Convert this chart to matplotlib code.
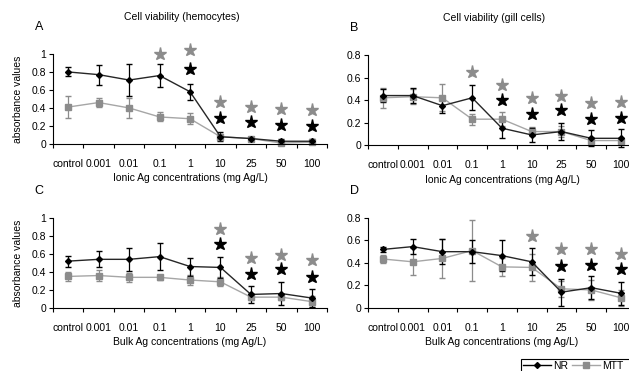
import matplotlib.pyplot as plt
from matplotlib.patches import Rectangle
import numpy as np

plt.rcParams['font.family'] = ['Liberation Sans', 'DejaVu Sans']

conc = ["control", "0.001", "0.01", "0.1", "1", "10", "25", "50", "100"]

# panel A - ionic Ag, hemocytes
a_nr = [0.80, 0.77, 0.71, 0.76, 0.58, 0.08, 0.06, 0.03, 0.03]
a_nr_err = [0.05, 0.11, 0.18, 0.13, 0.09, 0.05, 0.01, 0.02, 0.02]
a_mtt = [0.41, 0.46, 0.40, 0.30, 0.28, 0.08, 0.06, 0.01, 0.02]
a_mtt_err = [0.12, 0.05, 0.11, 0.05, 0.06, 0.03, 0.01, 0.01, 0.01]
a_star_gray = {3: 1.00, 4: 1.04, 5: 0.47, 6: 0.41, 7: 0.39, 8: 0.38}
a_star_black = {4: 0.83, 5: 0.285, 6: 0.24, 7: 0.21, 8: 0.20}

# panel B - ionic Ag, gill cells
b_nr = [0.44, 0.44, 0.35, 0.42, 0.15, 0.09, 0.12, 0.06, 0.06]
b_nr_err = [0.06, 0.065, 0.065, 0.11, 0.09, 0.065, 0.075, 0.07, 0.08]
b_mtt = [0.42, 0.43, 0.42, 0.23, 0.23, 0.12, 0.12, 0.04, 0.04]
b_mtt_err = [0.09, 0.065, 0.12, 0.05, 0.06, 0.04, 0.05, 0.03, 0.02]
b_star_gray = {3: 0.65, 4: 0.53, 5: 0.42, 6: 0.44, 7: 0.37, 8: 0.38}
b_star_black = {4: 0.40, 5: 0.28, 6: 0.31, 7: 0.23, 8: 0.24}

# panel C - bulk Ag, hemocytes
c_nr = [0.52, 0.54, 0.54, 0.57, 0.46, 0.45, 0.15, 0.16, 0.11]
c_nr_err = [0.06, 0.09, 0.13, 0.15, 0.10, 0.12, 0.09, 0.13, 0.10]
c_mtt = [0.35, 0.36, 0.34, 0.34, 0.31, 0.29, 0.12, 0.12, 0.07]
c_mtt_err = [0.05, 0.06, 0.05, 0.03, 0.06, 0.05, 0.03, 0.03, 0.06]
c_star_gray = {5: 0.88, 6: 0.55, 7: 0.59, 8: 0.53}
c_star_black = {5: 0.71, 6: 0.38, 7: 0.43, 8: 0.34}

# panel D - bulk Ag, gill cells
d_nr = [0.52, 0.545, 0.50, 0.50, 0.465, 0.41, 0.14, 0.18, 0.13]
d_nr_err = [0.025, 0.07, 0.11, 0.10, 0.14, 0.12, 0.12, 0.10, 0.10]
d_mtt = [0.435, 0.41, 0.44, 0.51, 0.365, 0.36, 0.17, 0.16, 0.09]
d_mtt_err = [0.035, 0.12, 0.17, 0.27, 0.08, 0.12, 0.07, 0.09, 0.07]
d_star_gray = {5: 0.64, 6: 0.52, 7: 0.52, 8: 0.48}
d_star_black = {6: 0.375, 7: 0.38, 8: 0.345}

fig = plt.figure(figsize=(6.29, 3.71), dpi=100)
H = 0.2426
panels = [
    ([0.0843, 0.612, 0.4356, H], a_nr, a_nr_err, a_mtt, a_mtt_err, a_star_gray, a_star_black, 1.0, "A",
     "Cell viability (hemocytes)", "Ionic Ag concentrations (mg Ag/L)", True),
    ([0.585, 0.609, 0.426, H], b_nr, b_nr_err, b_mtt, b_mtt_err, b_star_gray, b_star_black, 0.8, "B",
     "Cell viability (gill cells)", "Ionic Ag concentrations (mg Ag/L)", False),
    ([0.0843, 0.170, 0.4356, H], c_nr, c_nr_err, c_mtt, c_mtt_err, c_star_gray, c_star_black, 1.0, "C",
     None, "Bulk Ag concentrations (mg Ag/L)", True),
    ([0.585, 0.170, 0.426, H], d_nr, d_nr_err, d_mtt, d_mtt_err, d_star_gray, d_star_black, 0.8, "D",
     None, "Bulk Ag concentrations (mg Ag/L)", False),
]

x = np.arange(len(conc))
fs = 7.5
for rect, nr, nr_e, mtt, mtt_e, sg, sb, ymax, letter, title, xlabel, ylab in panels:
    ax = fig.add_axes(rect)
    ax.errorbar(x, mtt, yerr=mtt_e, color='#a6a6a6', ecolor='#8c8c8c', marker='s',
                markersize=4, mfc='#8c8c8c', mec='#8c8c8c', linewidth=1,
                elinewidth=0.9, capsize=2.5, label="MTT", clip_on=False)
    ax.errorbar(x, nr, yerr=nr_e, color='#262626', ecolor='black', marker='D',
                markersize=3, mfc='black', mec='black', linewidth=1,
                elinewidth=0.9, capsize=2.5, label="NR", clip_on=False)
    ax.plot(list(sg.keys()), list(sg.values()), linestyle='none', marker='*',
            markersize=9.5, color='#8c8c8c', clip_on=False)
    ax.plot(list(sb.keys()), list(sb.values()), linestyle='none', marker='*',
            markersize=9.5, color='black', clip_on=False)
    ax.set_xlim(-0.5, 8.5)
    ax.set_ylim(0, ymax)
    yt = np.arange(0, ymax + 0.01, 0.2)
    ax.set_yticks(yt)
    ax.set_yticklabels(["0" if v == 0 else ("1" if abs(v - 1) < 1e-9 else f"{v:.1f}") for v in yt])
    ax.set_xticks(np.arange(-0.5, 9, 1.0))
    ax.set_xticklabels([])
    ax.set_xticks(x, minor=True)
    ax.set_xticklabels(conc, minor=True)
    ax.tick_params(axis='x', which='major', direction='out', length=3, width=0.8)
    ax.tick_params(axis='x', which='minor', length=0, pad=11, labelsize=fs)
    ax.tick_params(axis='y', direction='out', length=3, width=0.8, labelsize=fs, pad=2)
    for s in ['top', 'right']:
        ax.spines[s].set_visible(False)
    ax.spines['left'].set_linewidth(0.8)
    ax.spines['bottom'].set_linewidth(0.8)
    ax.set_xlabel(xlabel, fontsize=fs, labelpad=3)
    if ylab:
        ax.set_ylabel("absorbance values", fontsize=fs, labelpad=6)
    if title:
        ax.text(0.47, 1.38, title, transform=ax.transAxes, ha='center', fontsize=fs)
    ax.text(-0.05, 1.27, letter, transform=ax.transAxes, ha='center', fontsize=9)

# legend box runs off the bottom-right corner, like the cropped original
fig.patches.append(Rectangle((521 / 629, -0.05), 0.2, 0.05 + 1 - 359 / 371,
                             transform=fig.transFigure, fill=False,
                             edgecolor='black', linewidth=0.8))
handles = [
    plt.Line2D([], [], color='black', marker='D', markersize=3, linewidth=1),
    plt.Line2D([], [], color='#a6a6a6', marker='s', markersize=4, mfc='#8c8c8c',
               mec='#8c8c8c', linewidth=1),
]
fig.legend(handles, ["NR", "MTT"], loc='center left', bbox_to_anchor=(0.832, 1 - 366 / 371),
           ncol=2, fontsize=fs, frameon=False, handlelength=2.7,
           borderpad=0, columnspacing=0.4, handletextpad=0.15, borderaxespad=0)

fig.savefig('out.png', dpi=100)
